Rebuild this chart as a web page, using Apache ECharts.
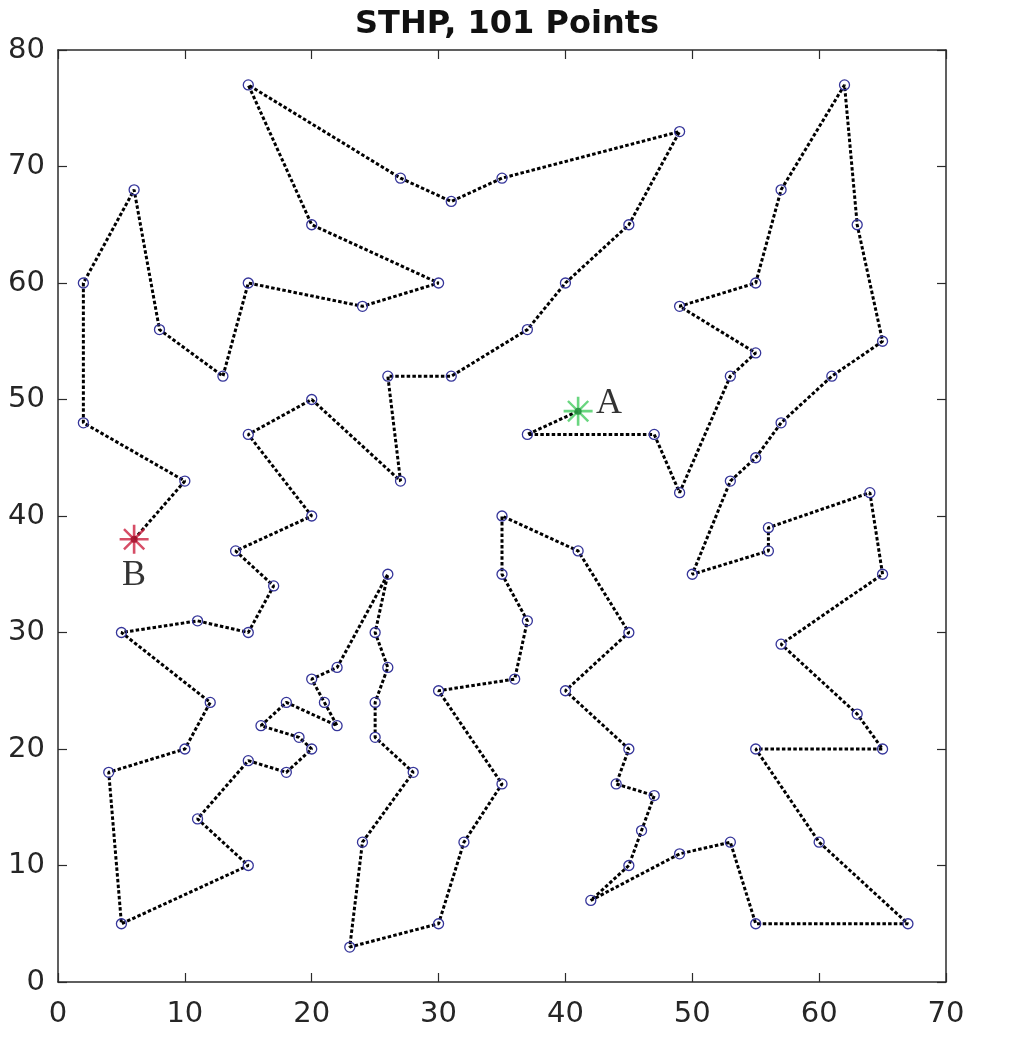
<!DOCTYPE html>
<html style="height: 100%">
   <head>
       <meta charset="utf-8">
   </head>
   <body style="height: 100%; margin: 0; background: #fff">
       <div id="container" style="width: 1014px; height: 1037px"></div>
       <script type="text/javascript" src="https://cdn.jsdelivr.net/npm/echarts@6/dist/echarts.min.js"></script>
       <script type="text/javascript">
// tour order, from B (end) to A (start)
var tourX = [6, 10, 2, 2, 6, 8, 13, 15, 24, 30, 20, 15, 27, 31, 35, 49, 45, 40, 37, 31,
             26, 27, 20, 15, 20, 14, 17, 15, 11, 5, 12, 10, 4, 5, 15, 11, 15, 18, 20, 19,
             16, 18, 22, 21, 20, 22, 26, 25, 26, 25, 25, 28, 24, 23, 30, 32, 35, 30, 36, 37,
             35, 35, 41, 45, 40, 45, 44, 47, 46, 45, 42, 49, 53, 55, 67, 60, 55, 65, 63, 57,
             65, 64, 56, 56, 50, 53, 55, 57, 61, 65, 63, 62, 57, 55, 49, 55, 53, 49, 47, 37, 41];
var tourY = [38, 43, 48, 60, 68, 56, 52, 60, 58, 60, 65, 77, 69, 67, 69, 73, 65, 60, 56, 52,
             52, 43, 50, 47, 40, 37, 34, 30, 31, 30, 24, 20, 18, 5, 10, 14, 19, 18, 20, 21,
             22, 24, 22, 24, 26, 27, 35, 30, 27, 24, 21, 18, 12, 3, 5, 12, 17, 25, 26, 31,
             35, 40, 37, 30, 25, 20, 17, 16, 13, 10, 7, 11, 12, 5, 5, 12, 20, 20, 23, 29,
             35, 42, 39, 37, 35, 43, 45, 48, 52, 55, 65, 77, 68, 60, 58, 54, 52, 42, 47, 47, 49];
var pointA = [41, 49];
var pointB = [6, 38];
var titleText = 'STHP, 101 Points';

var last = tourX.length - 1;
var tour = tourX.map(function (x, i) {
    var d = { value: [x, tourY[i]] };
    if (i === 0 || i === last) d.symbol = 'none';   // ends are drawn as stars
    return d;
});

// asterisk marker (MATLAB '*'): four thin bars, same winding
var starPath = 'path://M-0.9,-10L0.9,-10L0.9,10L-0.9,10Z' +
    'M-10,-0.9L10,-0.9L10,0.9L-10,0.9Z' +
    'M-6.4,-7.6L7.6,6.4L6.4,7.6L-7.6,-6.4Z' +
    'M-7.6,6.4L6.4,-7.6L7.6,-6.4L-6.4,7.6Z';

var axisColor = '#2b2b2b';
var tickFont = { fontFamily: 'DejaVu Sans', fontSize: 29, color: '#262626' };

var dom = document.getElementById("container");
var myChart = echarts.init(dom, null, { renderer: 'canvas' });

var option = {
    backgroundColor: '#fff',
    animation: false,
    title: {
        text: titleText,
        left: 502,
        textAlign: 'center',
        top: 4,
        textStyle: { fontFamily: 'DejaVu Sans', fontWeight: 'bold', fontSize: 32, color: '#111' }
    },
    grid: { left: 58, right: 68, top: 50, bottom: 55 },
    xAxis: [
      {
        type: 'value', min: 0, max: 70, interval: 10, position: 'bottom',
        axisLine: { show: true, onZero: false, lineStyle: { color: axisColor, width: 1.5 } },
        axisTick: { show: true, inside: true, length: 9, lineStyle: { color: axisColor, width: 1.2 } },
        axisLabel: Object.assign({ margin: 18 }, tickFont),
        splitLine: { show: false }
      },
      {
        type: 'value', min: 0, max: 70, interval: 10, position: 'top',
        axisLine: { show: true, onZero: false, lineStyle: { color: axisColor, width: 1.5 } },
        axisTick: { show: true, inside: true, length: 9, lineStyle: { color: axisColor, width: 1.2 } },
        axisLabel: { show: false },
        splitLine: { show: false }
      }
    ],
    yAxis: [
      {
        type: 'value', min: 0, max: 80, interval: 10, position: 'left',
        axisLine: { show: true, onZero: false, lineStyle: { color: axisColor, width: 1.5 } },
        axisTick: { show: true, inside: true, length: 9, lineStyle: { color: axisColor, width: 1.2 } },
        axisLabel: Object.assign({ margin: 13 }, tickFont),
        splitLine: { show: false }
      },
      {
        type: 'value', min: 0, max: 80, interval: 10, position: 'right',
        axisLine: { show: true, onZero: false, lineStyle: { color: axisColor, width: 1.5 } },
        axisTick: { show: true, inside: true, length: 9, lineStyle: { color: axisColor, width: 1.2 } },
        axisLabel: { show: false },
        splitLine: { show: false }
      }
    ],
    series: [
      {
        name: 'tour',
        type: 'line',
        data: tour,
        symbol: 'circle',
        symbolSize: 10,
        showAllSymbol: true,
        itemStyle: { color: 'rgba(0,0,0,0)', borderColor: '#35359a', borderWidth: 1.3 },
        lineStyle: { color: '#000', width: 3, type: [3.5, 2.2] },
        z: 2
      },
      {
        name: 'A',
        type: 'scatter',
        data: [pointA],
        symbol: starPath,
        symbolSize: 29,
        itemStyle: { color: '#45cc60' },
        label: {
          show: true, formatter: 'A', position: 'inside', offset: [31, -8],
          fontFamily: 'Liberation Serif', fontSize: 36, color: '#000'
        },
        z: 3
      },
      {
        name: 'B',
        type: 'scatter',
        data: [pointB],
        symbol: starPath,
        symbolSize: 29,
        itemStyle: { color: '#cc2040' },
        label: {
          show: true, formatter: 'B', position: 'inside', offset: [0, 36],
          fontFamily: 'Liberation Serif', fontSize: 36, color: '#000'
        },
        z: 3
      },
      {
        name: 'A core',
        type: 'scatter',
        data: [pointA],
        symbol: 'circle',
        symbolSize: 7,
        itemStyle: { color: '#1f8a3a' },
        silent: true,
        z: 4
      },
      {
        name: 'B core',
        type: 'scatter',
        data: [pointB],
        symbol: 'circle',
        symbolSize: 7,
        itemStyle: { color: '#a0102a' },
        silent: true,
        z: 4
      }
    ]
};

if (option && typeof option === "object") {
    myChart.setOption(option, true);
}
</script>
   </body>
</html>
